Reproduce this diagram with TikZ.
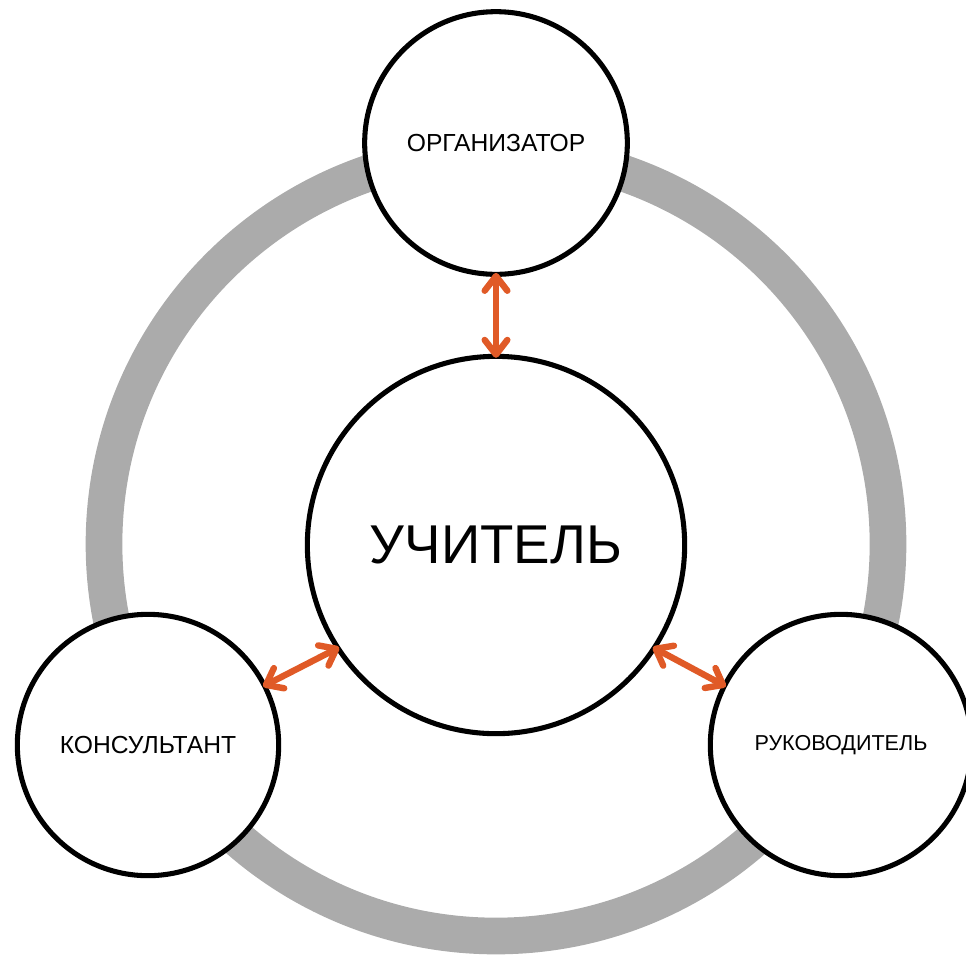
\documentclass[tikz,border=0pt]{standalone}
\usepackage{fontspec}
\setmainfont{Liberation Sans}
\usetikzlibrary{arrows.meta}
\definecolor{rust}{HTML}{E05A27}
\definecolor{ringgray}{HTML}{ABABAB}

\begin{document}
\begin{tikzpicture}[x=0.75pt,y=-0.75pt,
      role/.style={circle,draw,fill=white,line width=3.8pt,inner sep=0pt,
        minimum size=196pt,font=\fontsize{18.5}{21}\selectfont},
      link/.style={rust,line width=4.8pt,line cap=round,shorten <=-3pt,shorten >=-3pt,
        {Straight Barb[length=11pt,width=17pt,line cap=round,line join=round]}-{Straight Barb[length=11pt,width=17pt,line cap=round,line join=round]}}]
      \useasboundingbox (0,0) rectangle (966,958);
      % ring behind everything
      \coordinate (Mid) at (496,544);
      \draw[ringgray,line width=27.5pt] (Mid) circle[radius=294pt];
      \node[role,minimum size=283pt,font=\fontsize{41}{46}\selectfont] (Uch)
      at (496,545) {УЧИТЕЛЬ}; %centre
      \node[role,minimum size=197pt] (Org) at (496,143) {ОРГАНИЗАТОР};
      \node[role] (Kons) at (148,745) {КОНСУЛЬТАНТ};
      \node[role,font=\fontsize{16.2}{19}\selectfont] (Ruk) at (841,745) {РУКОВОДИТЕЛЬ};
      \draw[link] (Org) -- (Uch);
      \draw[link] (Kons.27) -- (Uch.213);
      \draw[link] (Uch.327) -- (Ruk.153);
    \end{tikzpicture}
\end{document}
